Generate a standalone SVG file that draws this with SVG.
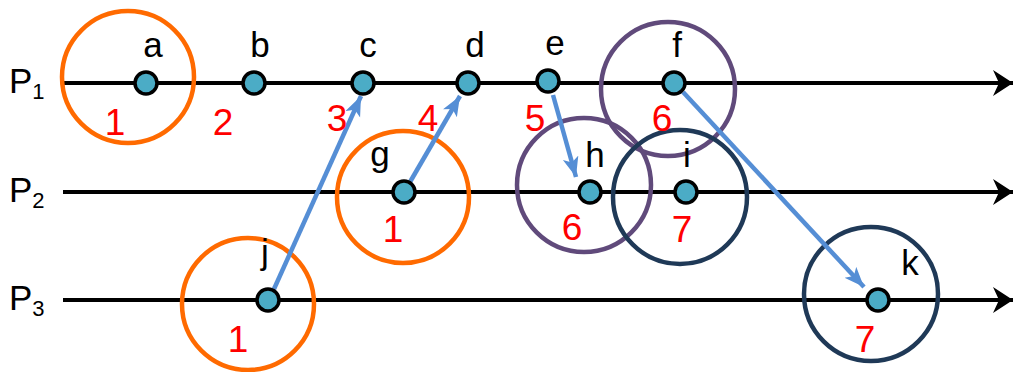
<svg xmlns="http://www.w3.org/2000/svg" width="1015" height="372" viewBox="0 0 1015 372">
<defs>
<style>
.tl{stroke:#000;stroke-width:4;fill:none}
.msg{stroke:#558ED5;stroke-width:4.5;fill:none}
.ev{fill:#4BACC6;stroke:#000;stroke-width:3.5}
.cut{fill:none;stroke-width:4.5}
.org{stroke:#FF6A00}
.pur{stroke:#604A7B}
.nav{stroke:#1F3957}
.lbl{font-family:"Liberation Sans",Arial,sans-serif;font-size:35px;fill:#000;text-anchor:middle}
.num{font-family:"Liberation Sans",Arial,sans-serif;font-size:37px;fill:#FF0000;text-anchor:middle}
.pl{font-family:"Liberation Sans",Arial,sans-serif;font-size:35px;fill:#000}
.sub{font-size:22px}
</style>
<marker id="ah" markerUnits="userSpaceOnUse" markerWidth="22" markerHeight="28" viewBox="0 0 22 28" refX="20" refY="13" orient="auto">
<path d="M0,0 L20,13 L0,26 L6,13 z" fill="#000"/>
</marker>
<marker id="bh" markerUnits="userSpaceOnUse" markerWidth="22" markerHeight="18" viewBox="0 0 22 18" refX="20" refY="8" orient="auto">
<path d="M0,0 L20,8 L0,16 L5,8 z" fill="#558ED5"/>
</marker>
</defs>

<g id="timelines">
<line class="tl" x1="63" y1="83" x2="1013" y2="83" marker-end="url(#ah)"/>
<line class="tl" x1="63" y1="192" x2="1013" y2="192" marker-end="url(#ah)"/>
<line class="tl" x1="63" y1="300" x2="1013" y2="300" marker-end="url(#ah)"/>
<text class="pl" x="9" y="93">P<tspan class="sub" dy="6">1</tspan></text>
<text class="pl" x="9" y="202">P<tspan class="sub" dy="6">2</tspan></text>
<text class="pl" x="9" y="310">P<tspan class="sub" dy="6">3</tspan></text>
</g>

<g id="cuts">
<circle class="cut org" cx="128" cy="77" r="66"/>
<circle class="cut org" cx="403" cy="197" r="66"/>
<circle class="cut org" cx="248" cy="304" r="66"/>
<circle class="cut pur" cx="668" cy="89" r="67"/>
<circle class="cut pur" cx="584" cy="185" r="67"/>
<circle class="cut nav" cx="680" cy="197" r="67"/>
<circle class="cut nav" cx="871" cy="294" r="67"/>
</g>

<g id="connectors">
<line class="msg" x1="274" y1="289" x2="361" y2="96" marker-end="url(#bh)"/>
<line class="msg" x1="410" y1="182" x2="460" y2="96" marker-end="url(#bh)"/>
<line class="msg" x1="553" y1="95" x2="576" y2="177" marker-end="url(#bh)"/>
<line class="msg" x1="683" y1="92" x2="864" y2="287" marker-end="url(#bh)"/>
</g>

<g id="node-a"><circle class="ev" cx="146" cy="83" r="11"/><text class="lbl" x="153" y="57">a</text><text class="num" x="115" y="135">1</text></g>
<g id="node-b"><circle class="ev" cx="254" cy="83" r="11"/><text class="lbl" x="260" y="57">b</text><text class="num" x="223" y="135">2</text></g>
<g id="node-c"><circle class="ev" cx="363" cy="83" r="11"/><text class="lbl" x="368" y="57">c</text><text class="num" x="337" y="131">3</text></g>
<g id="node-d"><circle class="ev" cx="468" cy="83" r="11"/><text class="lbl" x="475" y="57">d</text><text class="num" x="428" y="131">4</text></g>
<g id="node-e"><circle class="ev" cx="548" cy="81" r="11"/><text class="lbl" x="555" y="55">e</text><text class="num" x="535" y="131">5</text></g>
<g id="node-f"><circle class="ev" cx="674" cy="83" r="11"/><text class="lbl" x="677" y="57">f</text><text class="num" x="662" y="131">6</text></g>
<g id="node-g"><circle class="ev" cx="404" cy="192" r="11"/><text class="lbl" x="380" y="166">g</text><text class="num" x="393" y="242">1</text></g>
<g id="node-h"><circle class="ev" cx="590" cy="192" r="11"/><text class="lbl" x="595" y="167">h</text><text class="num" x="572" y="240">6</text></g>
<g id="node-i"><circle class="ev" cx="686" cy="192" r="11"/><text class="lbl" x="687" y="167">i</text><text class="num" x="682" y="242">7</text></g>
<g id="node-j"><circle class="ev" cx="268" cy="300" r="11"/><text class="lbl" x="265" y="264">j</text><text class="num" x="238" y="352">1</text></g>
<g id="node-k"><circle class="ev" cx="878" cy="300" r="11"/><text class="lbl" x="910" y="275">k</text><text class="num" x="865" y="352">7</text></g>
</svg>
